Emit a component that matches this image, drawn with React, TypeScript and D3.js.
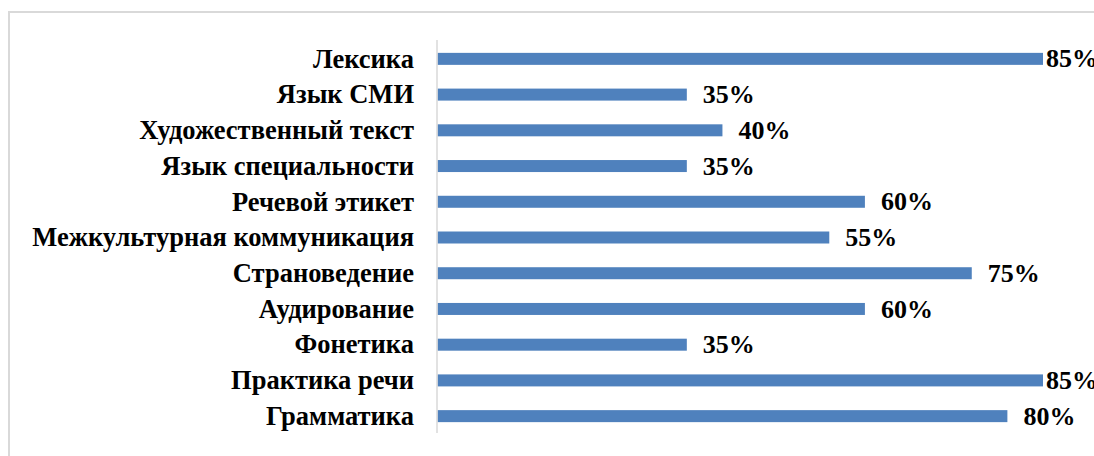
import React from "react";
import * as d3 from "d3";

const categories = [
  "Лексика",
  "Язык СМИ",
  "Художественный текст",
  "Язык специальности",
  "Речевой этикет",
  "Межкультурная коммуникация",
  "Страноведение",
  "Аудирование",
  "Фонетика",
  "Практика речи",
  "Грамматика",
];
const values = [85, 35, 40, 35, 60, 55, 75, 60, 35, 85, 80];

const W = 1094;
const H = 456;

export default function App() {
  const y = d3.scaleBand<string>().domain(categories).range([41, 434]).paddingInner(0.66).paddingOuter(0.33);
  const x = d3.scaleLinear().domain([0, 85]).range([437.5, 1043]);
  const font = "'Liberation Serif', 'Times New Roman', serif";
  return (
    <svg width={W} height={H} style={{ position: "absolute", left: 0, top: 0, background: "#fff" }}>
      <rect x={9} y={12} width={W + 20} height={H + 20} fill="#fff" stroke="#d9d9d9" strokeWidth={2} />
      {categories.map((c, i) => {
        const yc = (y(c) as number) + y.bandwidth() / 2;
        const xe = x(values[i]);
        const lx = Math.min(xe + 16, 1046);
        return (
          <g key={c}>
            <rect x={x(0)} y={yc - 6} width={xe - x(0)} height={12} fill="#4f81bd" />
            <text x={414} y={yc} dy="0.33em" textAnchor="end" fontFamily={font} fontWeight="bold" fontSize={26.5} fill="#000">
              {c}
            </text>
            <text x={lx} y={yc} dy="0.33em" fontFamily={font} fontWeight="bold" fontSize={26} fill="#000">
              {values[i]}%
            </text>
          </g>
        );
      })}
      <line x1={437} x2={437} y1={40} y2={433} stroke="#d9d9d9" strokeWidth={1.5} />
    </svg>
  );
}
